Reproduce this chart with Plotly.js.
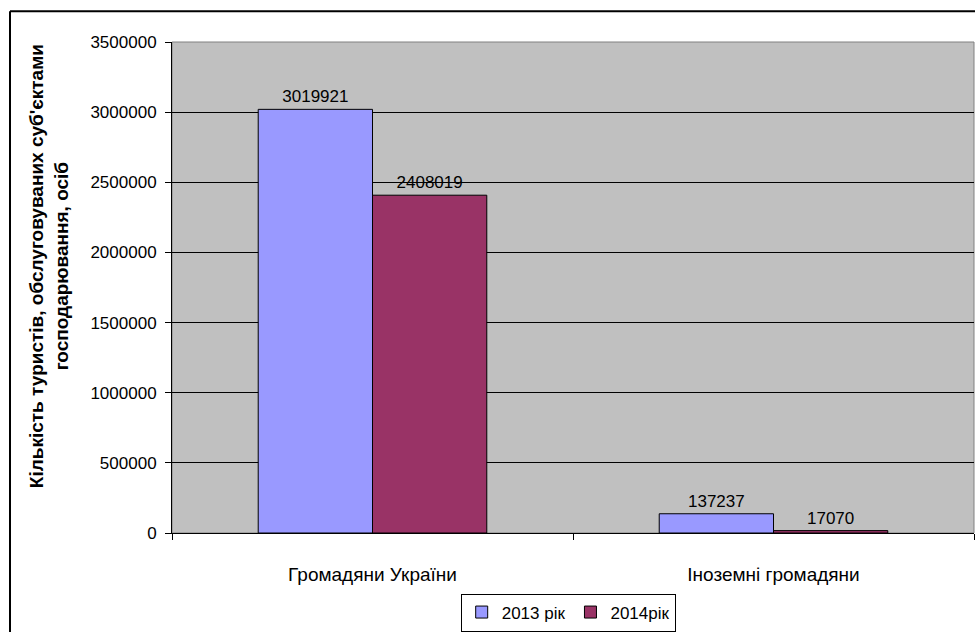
<!DOCTYPE html>
<html>
<head>
<meta charset="utf-8">
<script src="https://cdn.plot.ly/plotly-3.0.1.min.js"></script>
<style>html,body{margin:0;padding:0;background:#fff;overflow:hidden}#chart{width:975px;height:632px}</style>
</head>
<body>
<div id="chart"></div>
<script>
const categories = ["Громадяни України", "Іноземні громадяни"];
const series2013 = [3019921, 137237];
const series2014 = [2408019, 17070];
const seriesNames = ["2013 рік", "2014рік"];
const yTicks = [0, 500000, 1000000, 1500000, 2000000, 2500000, 3000000, 3500000];

const fam = "Arial, Liberation Sans, sans-serif";
const font = {family: fam, size: 17, color: "#000"};

const traces = [
  {type: "bar", name: seriesNames[0], x: categories, y: series2013,
   text: series2013.map(String), textposition: "outside", cliponaxis: false,
   textfont: font, marker: {color: "#9999FF", line: {color: "#000", width: 1}}},
  {type: "bar", name: seriesNames[1], x: categories, y: series2014,
   text: series2014.map(String), textposition: "outside", cliponaxis: false,
   textfont: font, marker: {color: "#993366", line: {color: "#000", width: 1}}}
];

const L = 172, R = 1, T = 42, B = 95;
const pw = 975 - L - R, ph = 632 - T - B;

const layout = {
  width: 975, height: 632,
  margin: {l: L, r: R, t: T, b: B},
  paper_bgcolor: "#fff", plot_bgcolor: "#C0C0C0",
  font: font,
  barmode: "group", bargap: 0.43, bargroupgap: 0,
  showlegend: true,
  legend: {orientation: "h", x: 0.494, xanchor: "center", y: -(598 - 537) / ph, yanchor: "top",
           bordercolor: "#000", borderwidth: 1, bgcolor: "#fff",
           font: {family: fam, size: 17, color: "#000"},
           itemwidth: 30, tracegroupgap: 0},
  xaxis: {type: "category", showline: true, linecolor: "#000", linewidth: 1,
          ticks: "outside", tickson: "boundaries", ticklen: 6, tickcolor: "#000",
          ticklabelstandoff: 24, showgrid: false, tickfont: {family: fam, size: 19, color: "#000"},
          fixedrange: true},
  yaxis: {range: [0, 3500000], tickvals: yTicks, ticktext: yTicks.map(String),
          showline: true, linecolor: "#000", linewidth: 1, ticks: "outside", ticklen: 6,
          tickcolor: "#000", showgrid: true, gridcolor: "#000", gridwidth: 1,
          ticklabelstandoff: 5,
          zeroline: false, tickfont: font, fixedrange: true},
  annotations: [{
    text: "<b>Кількість туристів, обслуговуваних суб'єктами<br>господарювання, осіб</b>",
    xref: "paper", yref: "paper", x: (49 - L) / pw, y: 1 - (268 - T) / ph,
    xanchor: "center", yanchor: "middle", textangle: -90, showarrow: false,
    font: {family: fam, size: 19, color: "#000"}
  }],
  shapes: [
    {type: "rect", xref: "paper", yref: "paper", x0: 0, x1: 1, y0: 0, y1: 1,
     line: {color: "#808080", width: 1}, layer: "below"},
    {type: "line", xref: "paper", yref: "paper", x0: (10 - L) / pw, x1: (10 - L) / pw,
     y0: 1 + (T - 11) / ph, y1: -(B + 10) / ph, line: {color: "#000", width: 2}},
    {type: "line", xref: "paper", yref: "paper", x0: (10 - L) / pw, x1: 1 + 10 / pw,
     y0: 1 + (T - 11) / ph, y1: 1 + (T - 11) / ph, line: {color: "#000", width: 2}}
  ]
};

Plotly.newPlot("chart", traces, layout, {displayModeBar: false, staticPlot: true});
</script>
</body>
</html>
